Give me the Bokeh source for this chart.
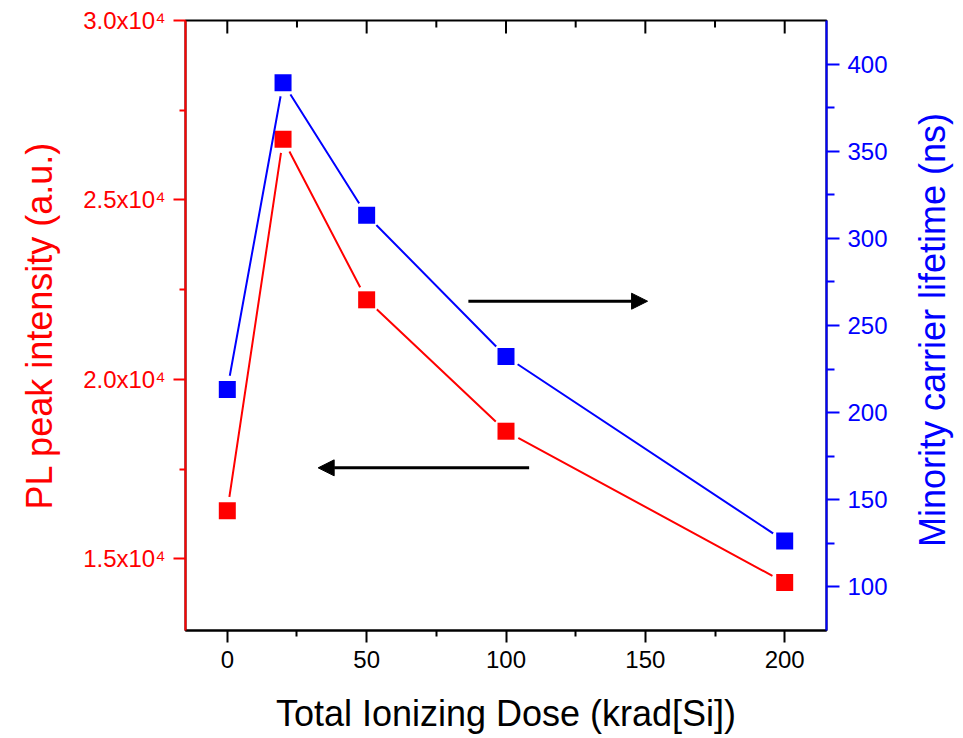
import math

from bokeh.plotting import figure
from bokeh.layouts import row
from bokeh.models import LinearAxis, Range1d, FixedTicker, Arrow, NormalHead, Div
from bokeh.embed import file_html
from bokeh.resources import INLINE

# Dose series and the two measured quantities
dose = [0, 20, 50, 100, 200]
pl_intensity = [16335, 26692, 22216, 18554, 14337]
lifetime_ns = [213.3, 389.3, 313.3, 232.2, 126.3]

x_ticks = [0, 50, 100, 150, 200]
x_minor = [25, 75, 125, 175]
pl_ticks = [15000, 20000, 25000, 30000]
pl_minor = [17500, 22500, 27500]
pl_tick_labels = ["1.5x10\u2074", "2.0x10\u2074", "2.5x10\u2074", "3.0x10\u2074"]
life_ticks = [100, 150, 200, 250, 300, 350, 400]
life_minor = [125, 175, 225, 275, 325, 375]

RED = "#FF0000"
BLUE = "#0000FF"
FONT = "Liberation Sans"

X0, X1 = -15, 215
PL0, PL1 = 13000, 30000
LT0, LT1 = 75, 425

p = figure(width=900, height=738, title=None,
           x_range=Range1d(X0, X1), y_range=Range1d(PL0, PL1),
           output_backend="svg", toolbar_location=None,
           min_border_left=185, min_border_right=74,
           min_border_top=20, min_border_bottom=108)
p.extra_y_ranges = {"life": Range1d(LT0, LT1)}
p.grid.visible = False
p.background_fill_color = "white"
p.border_fill_color = "white"
p.outline_line_color = "black"
p.outline_line_width = 2


def style_axis(ax, color):
    ax.axis_line_color = color
    ax.axis_line_width = 2
    ax.major_tick_line_color = color
    ax.minor_tick_line_color = color
    ax.major_tick_line_width = 2
    ax.minor_tick_line_width = 2
    ax.major_label_text_color = color
    ax.axis_label_text_color = color
    ax.major_label_text_font = FONT
    ax.axis_label_text_font = FONT
    ax.major_label_text_font_size = "24px"
    ax.axis_label_text_font_size = "36px"
    ax.axis_label_text_font_style = "normal"


# bottom axis
xa = p.xaxis[0]
xa.ticker = FixedTicker(ticks=x_ticks, minor_ticks=x_minor)
xa.axis_label = "Total Ionizing Dose (krad[Si])"
style_axis(xa, "black")
xa.major_tick_out = 12
xa.major_tick_in = 0
xa.minor_tick_out = 6
xa.minor_tick_in = 0
xa.major_label_standoff = 8
xa.axis_label_standoff = 22

# left axis (PL intensity)
ya = p.yaxis[0]
ya.ticker = FixedTicker(ticks=pl_ticks, minor_ticks=pl_minor)
ya.major_label_overrides = dict(zip(pl_ticks, pl_tick_labels))
ya.axis_label = "PL peak intensity (a.u.)"
style_axis(ya, RED)
ya.major_tick_out = 12
ya.major_tick_in = 0
ya.minor_tick_out = 6
ya.minor_tick_in = 0
ya.major_label_standoff = 8
ya.axis_label_standoff = 20

# right axis (carrier lifetime)
ra = LinearAxis(y_range_name="life",
                ticker=FixedTicker(ticks=life_ticks, minor_ticks=life_minor))
style_axis(ra, BLUE)
ra.major_tick_out = 13
ra.major_tick_in = 0
ra.minor_tick_out = 8
ra.minor_tick_in = 0
ra.major_label_standoff = 8
p.add_layout(ra, "right")

# inward tick marks along the top edge of the frame
px_per_pl = 610 / (PL1 - PL0)
p.segment(x0=x_ticks, y0=[PL1] * len(x_ticks),
          x1=x_ticks, y1=[PL1 - 13 / px_per_pl] * len(x_ticks),
          line_color="black", line_width=2)
p.segment(x0=x_minor, y0=[PL1] * len(x_minor),
          x1=x_minor, y1=[PL1 - 7 / px_per_pl] * len(x_minor),
          line_color="black", line_width=2)

# PL series: line, white gap around each point, square markers
p.line(dose, pl_intensity, line_color=RED, line_width=2)
p.scatter(dose, pl_intensity, marker="circle", size=28,
          fill_color="white", line_color=None)
p.scatter(dose, pl_intensity, marker="square", size=17,
          fill_color=RED, line_color=None)

# lifetime series
p.line(dose, lifetime_ns, line_color=BLUE, line_width=2, y_range_name="life")
p.scatter(dose, lifetime_ns, marker="circle", size=28,
          fill_color="white", line_color=None, y_range_name="life")
p.scatter(dose, lifetime_ns, marker="square", size=17,
          fill_color=BLUE, line_color=None, y_range_name="life")

# arrows pointing to each series' axis
p.add_layout(Arrow(end=NormalHead(size=16, fill_color="black", line_color="black"),
                   x_start=86.5, y_start=22177, x_end=150.8, y_end=22177,
                   line_width=3, line_color="black"))
p.add_layout(Arrow(end=NormalHead(size=16, fill_color="black", line_color="black"),
                   x_start=108.3, y_start=17533, x_end=32.6, y_end=17533,
                   line_width=3, line_color="black"))

# right-hand title, set vertically and reading bottom to top
right_title = Div(
    text=('<div style="width:55px;height:650px;display:flex;'
          'align-items:center;justify-content:center;">'
          '<span style="writing-mode:vertical-rl;transform:rotate(180deg);'
          "font-family:'Liberation Sans';font-size:36px;color:#0000FF;"
          'white-space:nowrap;line-height:1.15;">'
          'Minority carrier lifetime (ns)</span></div>'),
    width=63, height=738, styles={"background-color": "white"})

layout = row(p, right_title, spacing=0)

open("out.html", "w").write(file_html(layout, INLINE))
